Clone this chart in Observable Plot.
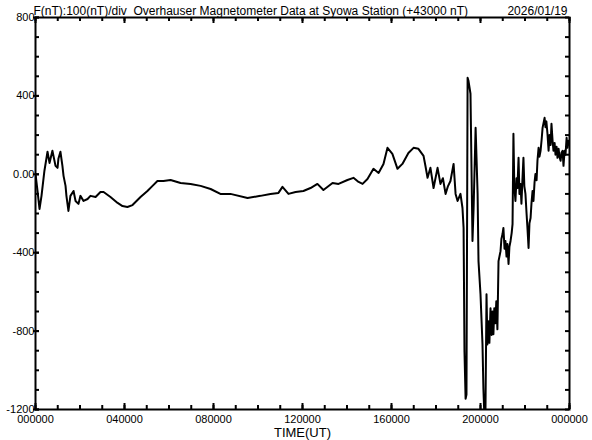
<!DOCTYPE html>
<html><head><meta charset="utf-8">
<script src="https://cdn.jsdelivr.net/npm/d3@7"></script>
<script src="https://cdn.jsdelivr.net/npm/@observablehq/plot@0.6"></script>
<style>body{margin:0;background:#fff} svg{display:block}</style>
</head><body><div id="chart"></div>
<script>
// time of day (hours UT) and F deviation (nT, offset +43000 nT)
const hours = [
0.00,0.09,0.18,0.27,0.40,0.54,0.63,0.76,0.90,0.99,1.03,1.12,1.21,1.26,1.35,1.39,1.48,1.57,1.71,1.80,1.93,2.02,2.16,2.34,2.47,2.70,2.92,3.06,3.37,3.69,3.91,4.13,4.36,4.72,5.03,5.26,5.48,5.75,6.07,6.52,6.97,7.42,7.87,8.31,8.76,9.53,10.11,10.56,10.92,11.10,11.37,11.69,12.04,12.36,12.67,12.94,13.35,13.62,14.02,14.29,14.52,14.70,14.92,15.19,15.42,15.64,15.82,16.04,16.27,16.49,16.76,16.99,17.21,17.44,
17.53,17.62,17.75,17.89,18.07,18.20,18.31,18.43,18.54,18.65,18.79,18.88,18.97,19.10,19.19,19.24,19.28,19.33,19.37,19.42,19.46,19.55,19.64,19.69,19.78,19.87,19.91,20.00,20.09,20.13,20.18,20.22,
20.27,20.31,20.36,20.40,20.45,20.50,20.54,20.58,20.62,20.67,20.71,20.76,20.81,20.90,20.94,20.99,21.03,21.08,21.12,21.17,21.21,21.26,21.30,21.35,21.40,21.44,21.48,21.52,21.57,21.62,21.66,21.71,21.75,21.80,21.84,21.88,21.93,21.97,22.02,22.07,22.11,22.16,22.20,22.25,22.29,22.34,22.38,22.43,22.47,22.52,22.56,22.61,22.65,22.70,22.75,22.79,22.88,22.92,22.96,23.01,23.06,23.10,23.15,23.19,23.24,23.28,23.33,23.37,23.42,23.46,23.51,23.55,23.60,23.64,23.69,23.73,23.78,23.82,23.87,23.91,23.96,24.00];
const nT = [
2,-85,-177,-110,17,115,58,120,43,33,79,115,43,-8,-59,-110,-187,-110,-85,-136,-151,-110,-136,-126,-110,-116,-90,-90,-116,-146,-162,-167,-157,-116,-85,-59,-34,-34,-29,-44,-49,-59,-75,-100,-100,-121,-110,-100,-95,-64,-100,-90,-85,-70,-49,-80,-44,-49,-29,-18,-39,-49,-24,28,7,53,135,104,28,53,109,135,130,94,
40,-18,33,-70,33,-49,-20,-100,-60,-34,53,-100,-136,-100,-172,-274,-904,-1145,-1124,493,477,411,-340,-172,237,-100,-443,-612,-868,-1093,-1250,-1250,
-612,-868,-750,-860,-683,-820,-700,-816,-683,-760,-648,-791,-443,-392,-330,-305,-274,-380,-340,-420,-356,-458,-370,-340,-300,-254,207,-60,-136,-20,-70,84,-100,-49,-150,-40,84,-60,-100,-200,-274,-376,-250,-223,-150,-85,-136,-40,2,-30,69,135,90,120,180,237,288,240,270,207,120,200,150,258,170,120,160,100,140,84,130,90,69,110,120,43,120,100,186,135,171,150];

const yTickValues = [-1200,-800,-400,0,400,800];
const yTickLabels = ["-1200","-800","-400","0.00","400","800"];
const xTickValues = [0,4,8,12,16,20,24];
const xTickLabels = ["000000","040000","080000","120000","160000","200000","000000"];
const titleText = "F(nT):100(nT)/div  Overhauser Magnetometer Data at Syowa Station (+43000 nT)";
const dateText = "2026/01/19";
const xLabel = "TIME(UT)";

const data = hours.map((h, i) => ({h, v: nT[i]}));
const minorY = d3.range(-1200, 801, 100);
const minorX = d3.range(0, 25, 1);
const majorX = d3.range(0, 25, 4);

const W = 592, H = 440, mL = 35, mR = 23, mT = 17, mB = 31;
const pw = W - mL - mR, ph = H - mT - mB;
const font = "'Liberation Sans', Arial, sans-serif";

const chart = Plot.plot({
  width: W, height: H,
  marginLeft: mL, marginRight: mR, marginTop: mT, marginBottom: mB,
  x: {domain: [0, 24], axis: null},
  y: {domain: [-1200, 800], axis: null},
  style: {fontFamily: font, background: "#fff", color: "#000"},
  marks: [
    Plot.line(data, {x: "h", y: "v", stroke: "#000", strokeWidth: 2, clip: true}),
    Plot.frame({stroke: "#000", strokeWidth: 2}),
    Plot.ruleY(minorY, {y: d => d, insetRight: pw - 4, stroke: "#000", strokeWidth: 2}),
    Plot.ruleY(yTickValues, {y: d => d, insetLeft: -2, insetRight: pw - 4, stroke: "#000", strokeWidth: 2}),
    Plot.ruleY(minorY, {y: d => d, insetLeft: pw - 4, stroke: "#000", strokeWidth: 2}),
    Plot.ruleX(minorX, {x: d => d, insetBottom: ph - 4, stroke: "#000", strokeWidth: 2}),
    Plot.ruleX(minorX, {x: d => d, insetTop: ph - 4, stroke: "#000", strokeWidth: 2}),
    Plot.ruleX(majorX, {x: d => d, insetBottom: ph - 6, stroke: "#000", strokeWidth: 2}),
    Plot.ruleX(majorX, {x: d => d, insetTop: ph - 6, stroke: "#000", strokeWidth: 2}),
    Plot.text(yTickValues, {y: d => d, text: (d, i) => yTickLabels[i], frameAnchor: "left", textAnchor: "end", dx: -1, fontSize: 11, fill: "#000"}),
    Plot.text(xTickValues, {x: d => d, text: (d, i) => xTickLabels[i], frameAnchor: "bottom", lineAnchor: "top", dy: 6, fontSize: 11, fill: "#000"}),
    Plot.text([titleText], {text: d => d, frameAnchor: "top-left", textAnchor: "start", lineAnchor: "bottom", dx: -2, dy: -3, fontSize: 12, fill: "#000"}),
    Plot.text([dateText], {text: d => d, frameAnchor: "top-right", textAnchor: "end", lineAnchor: "bottom", dx: -2, dy: -3, fontSize: 12, fill: "#000"}),
    Plot.text([xLabel], {text: d => d, frameAnchor: "bottom", lineAnchor: "bottom", dy: 27, fontSize: 13, fill: "#000"})
  ]
});
document.getElementById("chart").append(chart);
</script>
</body></html>
